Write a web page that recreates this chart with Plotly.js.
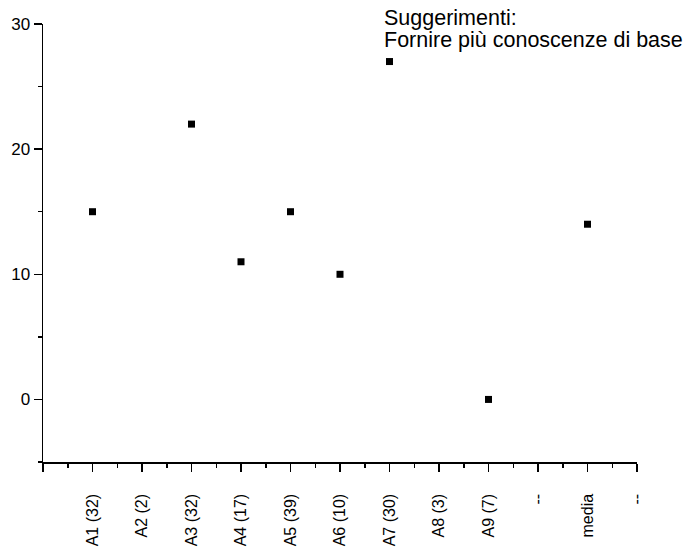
<!DOCTYPE html>
<html>
<head>
<meta charset="utf-8">
<script src="https://cdn.plot.ly/plotly-3.0.1.min.js"></script>
<style>html,body{margin:0;padding:0;background:#fff;}#chart{width:689px;height:555px;}</style>
</head>
<body>
<div id="chart"></div>
<script>
// Data
const categories = ['A1 (32)', 'A2 (2)', 'A3 (32)', 'A4 (17)', 'A5 (39)', 'A6 (10)', 'A7 (30)', 'A8 (3)', 'A9 (7)', '--', 'media', '--'];
const values = [15, null, 22, 11, 15, 10, 27, null, 0, null, 14, null];
const annotationLines = ['Suggerimenti:', 'Fornire più conoscenze di base'];

const positions = categories.map((c, i) => i + 1);
const tickVals = [0].concat(positions);
const tickText = [''].concat(categories);

const trace = {
  x: positions,
  y: values,
  type: 'scatter',
  mode: 'markers',
  marker: {symbol: 'square', size: 7, color: '#000000'},
  hoverinfo: 'x+y',
  showlegend: false
};

const layout = {
  width: 689,
  height: 555,
  margin: {l: 43, r: 52, t: 24, b: 93},
  paper_bgcolor: '#ffffff',
  plot_bgcolor: '#ffffff',
  font: {family: 'Liberation Sans, Arial, sans-serif', color: '#000000'},
  xaxis: {
    range: [0, 12],
    showgrid: false,
    zeroline: false,
    showline: true,
    linecolor: '#000000',
    linewidth: 1.5,
    ticks: 'outside',
    ticklen: 8,
    tickwidth: 1.5,
    tickcolor: '#000000',
    tickmode: 'array',
    tickvals: tickVals,
    ticktext: tickText,
    tickangle: -90,
    ticklabelstandoff: 16,
    tickfont: {size: 16, family: 'Liberation Sans, Arial, sans-serif', color: '#000000'},
    minor: {tick0: 0.5, dtick: 1, ticks: 'outside', ticklen: 4, tickwidth: 1.5, tickcolor: '#000000', showgrid: false},
    fixedrange: true
  },
  yaxis: {
    range: [-5, 30],
    showgrid: false,
    zeroline: false,
    showline: true,
    linecolor: '#000000',
    linewidth: 1.5,
    ticks: 'outside',
    ticklen: 8,
    tickwidth: 1.5,
    tickcolor: '#000000',
    tickmode: 'array',
    tickvals: [0, 10, 20, 30],
    tickfont: {size: 17, family: 'Liberation Sans, Arial, sans-serif', color: '#000000'},
    minor: {tickmode: 'array', tickvals: [-5, 5, 15, 25], ticks: 'outside', ticklen: 4, tickwidth: 1.5, tickcolor: '#000000', showgrid: false},
    fixedrange: true
  },
  annotations: [
    {xref: 'paper', yref: 'paper', x: (383 - 43) / 594, y: (462 - 18) / 438, xanchor: 'left', yanchor: 'middle',
     text: annotationLines[0], showarrow: false, font: {size: 21.5, color: '#000000'}, borderpad: 0},
    {xref: 'paper', yref: 'paper', x: (383 - 43) / 594, y: (462 - 40) / 438, xanchor: 'left', yanchor: 'middle',
     text: annotationLines[1], showarrow: false, font: {size: 21.5, color: '#000000'}, borderpad: 0}
  ]
};

Plotly.newPlot('chart', [trace], layout, {staticPlot: true, displayModeBar: false});
</script>
</body>
</html>
